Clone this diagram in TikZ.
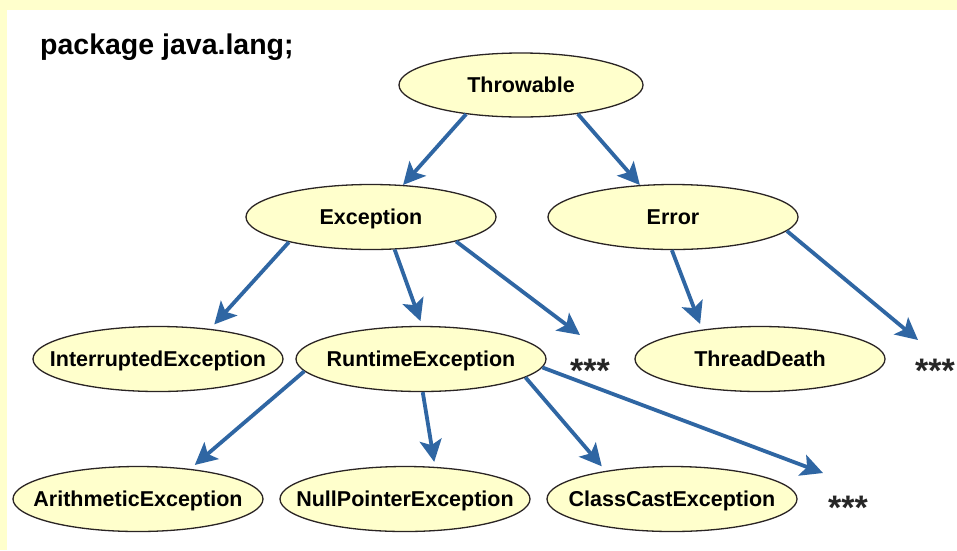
\documentclass[tikz,border=0pt]{standalone}
\usepackage{fontspec}
\setmainfont{Liberation Sans}
\usetikzlibrary{shapes.geometric,arrows.meta,calc}
\definecolor{bgyellow}{HTML}{FFFFCC}
\definecolor{nodefill}{HTML}{FFFFCC}
\definecolor{arrowblue}{HTML}{2F66A3}
\definecolor{outline}{HTML}{2A2424}
\newcommand{\cname}[1]{\makebox[0pt][c]{#1}}
\tikzset{
  cls/.style={ellipse, draw=outline, line width=1.3pt, fill=nodefill,
    minimum width=250pt, minimum height=65pt, inner sep=0pt,
    font=\fontsize{21.5}{24}\selectfont\bfseries, text height=15.4pt, text depth=0pt},
  inh/.style={draw=arrowblue, line width=3.8pt,
    -{Stealth[length=22pt, width=22pt, inset=5pt]}},
  more/.style={font=\fontsize{34}{36}\selectfont\bfseries, anchor=base, inner sep=0pt, text=black!85}
}
\begin{document}
\begin{tikzpicture}[x=1pt, y=-1pt]
\useasboundingbox (0,0) rectangle (957,550);
\fill[bgyellow] (0,0) rectangle (957,550);
\fill[white] (7,10) rectangle (957,550);

\node[anchor=base west, inner sep=0pt, font=\fontsize{28.5}{30}\selectfont\bfseries] (pkg) at (40,54) {package java.lang;};

\node[cls, minimum width=244pt, minimum height=64pt] (thr) at (521,85) {\cname{Throwable}};
\node[cls] (exc) at (371,217) {\cname{Exception}};
\node[cls] (err) at (673,217) {\cname{Error}};
\node[cls] (int) at (158,359) {\cname{InterruptedException}};
\node[cls] (rt)  at (421,359) {\cname{RuntimeException}};
\node[cls] (td)  at (760,359) {\cname{ThreadDeath}};
\node[cls] (ari) at (138,499) {\cname{ArithmeticException}};
\node[cls] (npe) at (405,499) {\cname{NullPointerException}};
\node[cls] (cce) at (672,499) {\cname{ClassCastException}};

\node[more] (s1) at (590,382) {***};
\node[more] (s2) at (935,382) {***};
\node[more] (s3) at (848,519) {***};

\coordinate (t1) at (580,335);
\coordinate (t2) at (918,340);
\coordinate (t3) at (823,473);

\draw[inh] (thr.208) -- (exc.45);
\draw[inh] (thr.-27) -- (err.136);
\draw[inh, shorten >=6pt] (exc.197) -- (int.30);
\draw[inh, shorten >=5pt] (exc.-54) -- (rt.88);
\draw[inh] (exc.-16) -- (t1);
\draw[inh, shorten >=6pt] (err.-92) -- (td.153);
\draw[inh] (err.-7) -- (t2);
\draw[inh, shorten >=6pt] (rt.186) -- (ari.30);
\draw[inh, shorten >=5pt] (rt.-87) -- (npe.47);
\draw[inh, shorten >=6pt] (rt.-10) -- (cce.157);
\draw[inh] (rt.-4) -- (t3);
\end{tikzpicture}
\end{document}
